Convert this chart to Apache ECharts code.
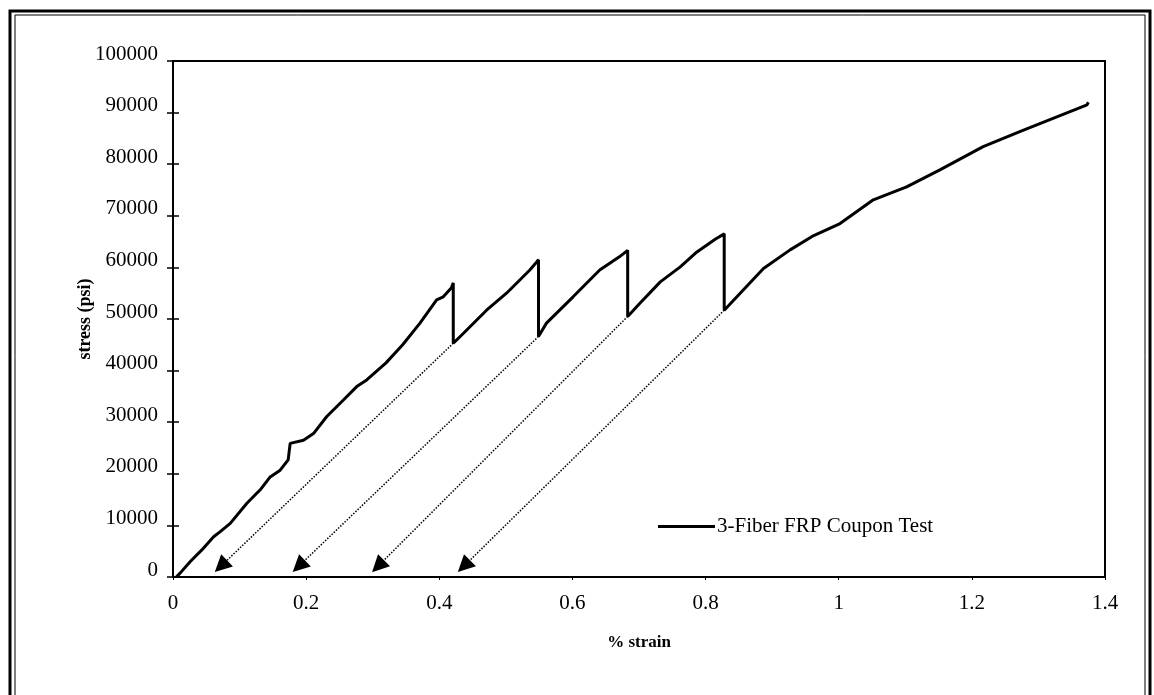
<!DOCTYPE html>
<html>
<head>
<meta charset="utf-8">
<script src="https://cdn.jsdelivr.net/npm/echarts@6/dist/echarts.min.js"></script>
<style>
  html, body { margin: 0; padding: 0; background: #fff; }
  #main { width: 1154px; height: 695px; }
</style>
</head>
<body>
<div id="main"></div>
<script>
// main coupon curve (% strain, psi)
var strain = [0.005, 0.011, 0.026, 0.043, 0.061, 0.071, 0.086, 0.111, 0.131, 0.146, 0.161, 0.173, 0.176, 0.196, 0.211, 0.231, 0.256, 0.276, 0.291, 0.32, 0.345, 0.371, 0.396, 0.406, 0.418, 0.421,
  0.421, 0.436, 0.471, 0.501, 0.536, 0.546, 0.549,
  0.549, 0.561, 0.601, 0.641, 0.67, 0.683,
  0.683, 0.701, 0.732, 0.762, 0.787, 0.815, 0.828,
  0.828, 0.852, 0.887, 0.927, 0.96, 1.002, 1.052, 1.102, 1.152, 1.217, 1.272, 1.322, 1.373, 1.375];
var stress = [0, 800, 3000, 5200, 7800, 8800, 10400, 14300, 16900, 19400, 20700, 22700, 25900, 26500, 27800, 31100, 34300, 36900, 38200, 41500, 45000, 49200, 53700, 54300, 56000, 57000,
  45300, 47200, 51700, 55000, 59500, 61000, 61500,
  46600, 49200, 54300, 59500, 62000, 63300,
  50500, 53000, 57200, 60100, 63000, 65500, 66500,
  51700, 55000, 59800, 63400, 66000, 68500, 73100, 75600, 78900, 83400, 86300, 88900, 91500, 92000];

// unloading arrows: start (drop bottom) -> end (arrowhead centre)
var arrowFrom = [[0.421, 45300], [0.549, 46600], [0.683, 50500], [0.828, 51700]];
var arrowTo = [[0.072, 2100], [0.189, 2100], [0.308, 2100], [0.437, 2100]];

var xTicks = [0, 0.2, 0.4, 0.6, 0.8, 1, 1.2, 1.4];
var seriesName = '3-Fiber FRP Coupon Test';

var curve = [];
for (var i = 0; i < strain.length; i++) {
  curve.push([strain[i], stress[i]]);
}
var arrows = [];
for (var j = 0; j < arrowFrom.length; j++) {
  arrows.push([{ coord: arrowFrom[j] }, { coord: arrowTo[j] }]);
}

var serif = '"Liberation Serif", "Times New Roman", serif';

var myChart = echarts.init(document.getElementById('main'));
var option = {
  animation: false,
  backgroundColor: '#fff',
  grid: {
    left: 173, top: 61, right: 49, bottom: 118,
    show: true, borderColor: '#000', borderWidth: 2, backgroundColor: 'transparent'
  },
  legend: {
    left: 653, top: 511,
    icon: 'rect', itemWidth: 57, itemHeight: 3, itemGap: 4,
    data: [seriesName],
    textStyle: { fontFamily: serif, fontSize: 21, color: '#000', padding: [0, 0, 0, -3] }
  },
  xAxis: {
    type: 'value', min: 0, max: 1.4, interval: 0.2,
    name: '% strain', nameLocation: 'middle', nameGap: 57, nameMoveOverlap: false,
    nameTextStyle: { fontFamily: serif, fontSize: 17, fontWeight: 'bold', color: '#000' },
    axisLine: { show: true, lineStyle: { color: '#000', width: 2 } },
    axisTick: { show: true, length: 3, lineStyle: { color: '#000' } },
    splitLine: { show: false },
    axisLabel: {
      margin: 16, fontFamily: serif, fontSize: 21, color: '#000',
      formatter: function (v) {
        var t = xTicks.filter(function (x) { return Math.abs(x - v) < 1e-9; });
        return t.length ? String(t[0]) : '';
      }
    }
  },
  yAxis: [{
    type: 'value', min: 0, max: 100000, interval: 10000, position: 'left',
    name: 'stress (psi)', nameLocation: 'middle', nameGap: 79, nameRotate: 90, nameMoveOverlap: false,
    nameTextStyle: { fontFamily: serif, fontSize: 18, fontWeight: 'bold', color: '#000' },
    axisLine: { show: true, lineStyle: { color: '#000', width: 2 } },
    axisTick: { show: true, length: 6, lineStyle: { color: '#000', width: 1.5 } },
    splitLine: { show: false },
    axisLabel: {
      margin: 15, fontFamily: serif, fontSize: 21, color: '#000',
      verticalAlign: 'bottom', lineHeight: 14,
      formatter: function (v) { return String(v); }
    }
  }, {
    type: 'value', min: 0, max: 100000, interval: 10000, position: 'left',
    axisLine: { show: false },
    axisTick: { show: true, inside: true, length: 6, lineStyle: { color: '#000', width: 1.5 } },
    axisLabel: { show: false },
    splitLine: { show: false }
  }],
  graphic: [
    { type: 'rect', shape: { x: 10, y: 11, width: 1140, height: 700 }, style: { fill: 'none', stroke: '#000', lineWidth: 3 } },
    { type: 'rect', shape: { x: 15, y: 15, width: 1130, height: 700 }, style: { fill: 'none', stroke: '#000', lineWidth: 1 } }
  ],
  series: [{
    name: seriesName,
    type: 'line',
    data: curve,
    showSymbol: false,
    lineStyle: { color: '#000', width: 3 },
    itemStyle: { color: '#000' },
    markLine: {
      silent: true,
      animation: false,
      symbol: ['none', 'triangle'],
      symbolSize: 17,
      label: { show: false },
      lineStyle: { color: '#000', width: 1.5, type: 'dotted' },
      itemStyle: { color: '#000' },
      emphasis: { disabled: true },
      data: arrows
    }
  }]
};
myChart.setOption(option);
</script>
</body>
</html>
